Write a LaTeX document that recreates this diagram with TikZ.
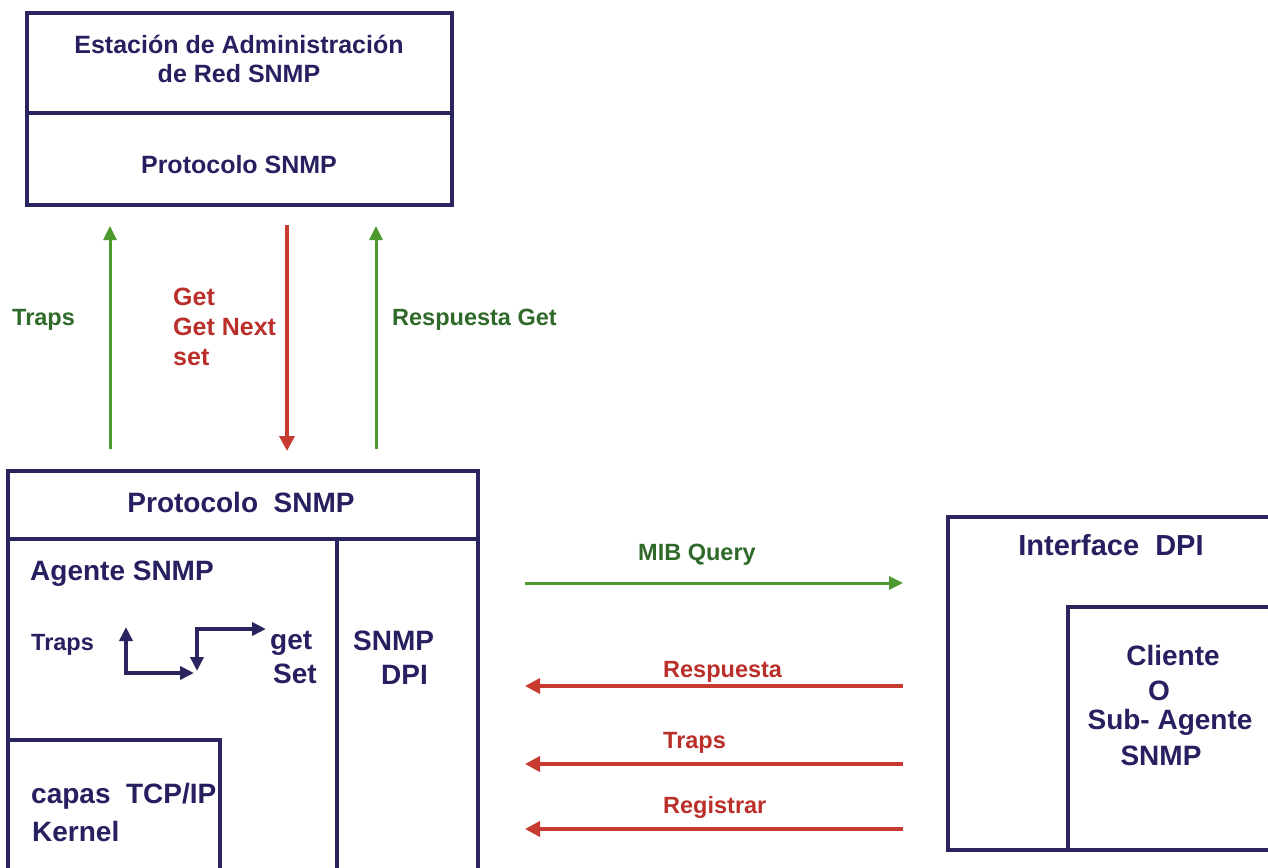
\documentclass[tikz,border=0pt]{standalone}
\usepackage{fontspec}
\setmainfont{Liberation Sans}
\usetikzlibrary{arrows.meta}
\definecolor{boxc}{HTML}{2A255E}
\definecolor{navyt}{HTML}{272060}
\definecolor{greent}{HTML}{2F6A2A}
\definecolor{greena}{HTML}{4E9A2E}
\definecolor{reda}{HTML}{C63A2F}
\definecolor{redt}{HTML}{BA2F29}
\tikzset{
  boxline/.style={draw=boxc, line width=4pt},
  tnavy/.style={text=navyt, inner sep=0pt, font=\fontsize{25}{30}\selectfont\bfseries},
  tbig/.style={text=navyt, inner sep=0pt, font=\fontsize{28}{32}\selectfont\bfseries},
  tgreen/.style={text=greent, inner sep=0pt, font=\fontsize{23.5}{28}\selectfont\bfseries},
  tred/.style={text=redt, inner sep=0pt, font=\fontsize{23.5}{28}\selectfont\bfseries},
  tredb/.style={text=redt, inner sep=0pt, font=\fontsize{25}{30}\selectfont\bfseries},
  garrow/.style={draw=greena, line width=3pt, -{Triangle[length=14pt,width=13pt]}},
  rarrow/.style={draw=reda, line width=3.5pt, -{Triangle[length=15pt,width=15pt]}},
  narrow/.style={draw=boxc, line width=4pt, {Triangle[length=14pt,width=13pt]}-{Triangle[length=14pt,width=13pt]}},
}
\begin{document}
\begin{tikzpicture}[x=1pt,y=-1pt]
\path[use as bounding box] (0,0) rectangle (1268,867);
\clip (0,0) rectangle (1268,867);
\fill[white] (0,0) rectangle (1268,867);

% top box
\draw[boxline] (27,13) rectangle (452,205);
\draw[boxline] (27,113) -- (452,113);
\node[tnavy, anchor=base] (sta1) at (239,53) {Estación de Administración};
\node[tnavy, anchor=base] (sta2) at (239,82) {de Red SNMP};
\node[tnavy, anchor=base] (pro1) at (239,173) {Protocolo SNMP};

% vertical arrows
\coordinate (ga1) at (110,449); \coordinate (ga2) at (110,226);
\coordinate (ra1) at (287,225); \coordinate (ra2) at (287,451);
\coordinate (gb1) at (376,449); \coordinate (gb2) at (376,226);
\draw[garrow] (ga1) -- (ga2);
\draw[rarrow] (ra1) -- (ra2);
\draw[garrow] (gb1) -- (gb2);
\node[tgreen, anchor=base west] (lt) at (12,325) {Traps};
\node[tredb, anchor=base west] (lg1) at (173,305) {Get};
\node[tredb, anchor=base west] (lg2) at (173,335) {Get Next};
\node[tredb, anchor=base west] (lg3) at (173,365) {set};
\node[tgreen, anchor=base west] (lr) at (392,325) {Respuesta Get};

% bottom-left box
\draw[boxline] (8,880) |- (478,471) -- (478,880);
\draw[boxline] (8,539) -- (478,539);
\draw[boxline] (337,539) -- (337,880);
\draw[boxline] (8,740) -| (220,880);
\node[tbig, anchor=base] (pro2) at (241,512) {Protocolo\ \ SNMP};
\node[tbig, anchor=base west] (age) at (30,580) {Agente SNMP};
\node[tnavy, font=\fontsize{23.5}{28}\selectfont\bfseries, anchor=base west] (itr) at (31,650) {Traps};
\node[tbig, anchor=base west] (iget) at (270,649) {get};
\node[tbig, anchor=base west] (iset) at (273,683) {Set};
\node[tbig, anchor=base west] (dpi1) at (353,650) {SNMP};
\node[tbig, anchor=base west] (dpi2) at (381,684) {DPI};
\node[tbig, anchor=base west] (cap) at (31,803) {capas\ \ TCP/IP};
\node[tbig, anchor=base west] (ker) at (32,841) {Kernel};
\coordinate (n1) at (126,627); \coordinate (n2) at (194,673);
\coordinate (n3) at (197,671); \coordinate (n4) at (266,629);
\draw[narrow] (n1) |- (n2);
\draw[narrow] (n3) |- (n4);

% horizontal arrows
\coordinate (m1) at (525,583); \coordinate (m2) at (903,583);
\coordinate (p1) at (903,686); \coordinate (p2) at (525,686);
\coordinate (q1) at (903,764); \coordinate (q2) at (525,764);
\coordinate (s1) at (903,829); \coordinate (s2) at (525,829);
\draw[garrow] (m1) -- (m2);
\draw[rarrow] (p1) -- (p2);
\draw[rarrow] (q1) -- (q2);
\draw[rarrow] (s1) -- (s2);
\node[tgreen, anchor=base] (lm) at (697,560) {MIB Query};
\node[tred, anchor=base west] (lp) at (663,677) {Respuesta};
\node[tred, anchor=base west] (lq) at (663,748) {Traps};
\node[tred, anchor=base west] (ls) at (663,813) {Registrar};

% right box
\draw[boxline] (1280,517) -| (948,850) -- (1280,850);
\draw[boxline] (1280,607) -| (1068,850);
\node[tbig, font=\fontsize{29}{34}\selectfont\bfseries, anchor=base] (ifc) at (1111,555) {Interface\ \ DPI};
\node[tbig, anchor=base] (cl1) at (1173,665) {Cliente};
\node[tbig, anchor=base] (cl2) at (1159,700) {O};
\node[tbig, anchor=base] (cl3) at (1170,729) {Sub- Agente};
\node[tbig, anchor=base] (cl4) at (1161,765) {SNMP};
\end{tikzpicture}
\end{document}
